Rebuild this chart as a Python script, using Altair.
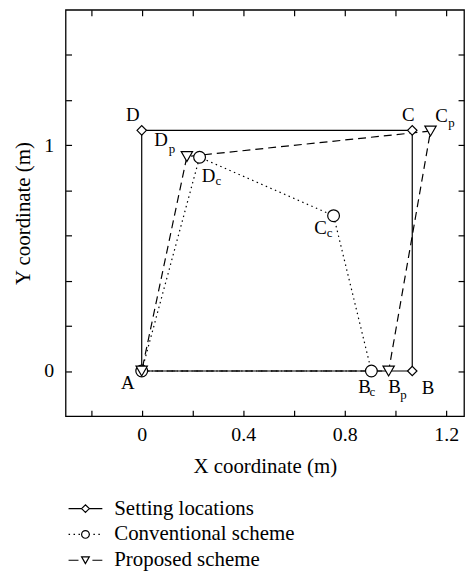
import altair as alt
import pandas as pd

# ---------------- data ----------------
corner_names = ["A", "B", "C", "D"]
set_x = [0.0, 1.066, 1.066, 0.0]
set_y = [0.0, 0.0, 1.066, 1.066]
conv_x = [0.0, 0.905, 0.756, 0.228]
conv_y = [0.0, 0.0, 0.688, 0.947]
prop_x = [0.0, 0.973, 1.138, 0.178]
prop_y = [0.0, 0.0, 1.063, 0.950]
series_names = ["Setting locations", "Conventional scheme", "Proposed scheme"]
series_subs = ["", "c", "p"]
x_tick_values = [-0.2, 0.0, 0.2, 0.4, 0.6, 0.8, 1.0, 1.2]
x_tick_labels = ["0", "0.4", "0.8", "1.2"]
y_tick_values = [0.0, 0.2, 0.4, 0.6, 0.8, 1.0, 1.2, 1.4]
y_tick_labels = ["0", "1"]
x_title = "X coordinate (m)"
y_title = "Y coordinate (m)"

# ---------------- styles ----------------
FONT = "Liberation Serif"
x_domain = [-0.3, 1.27]
y_domain = [-0.2, 1.6]
dashes = [[1, 0], [1.5, 3.5], [8, 5]]
legend_dashes = [[1, 0], [1.5, 3.5], [10, 14]]
shapes = ["diamond", "circle", "triangle-down"]
sizes = [90, 140, 130]
# label offsets in pixels: (dx, dy) for main letter, (sdx, sdy) for subscript
main_off = {
    (0, 0): (-14, 12), (0, 1): (16, 17), (0, 2): (-4, -15), (0, 3): (-9, -15),
    (1, 1): (-7, 16), (1, 2): (-13, 12), (1, 3): (9, 19),
    (2, 1): (6, 16), (2, 2): (11, -15), (2, 3): (-26, -17),
}
sub_off = {
    (1, 1): (1, 21), (1, 2): (-4, 17), (1, 3): (19, 24),
    (2, 1): (15, 24), (2, 2): (21, -8), (2, 3): (-15, -8),
}

xs_all = [set_x, conv_x, prop_x]
ys_all = [set_y, conv_y, prop_y]

xscale = alt.Scale(domain=x_domain, nice=False, zero=False)
yscale = alt.Scale(domain=y_domain, nice=False, zero=False)


def lab_expr(labels):
    arr = "[" + ",".join("'" + l + "'" for l in labels) + "]"
    return "indexof(" + arr + ", datum.label) >= 0 ? datum.label : ''"


ax_bottom = alt.Axis(orient="bottom", values=x_tick_values, format="~g",
                     labelExpr=lab_expr(x_tick_labels),
                     title=x_title, offset=-6, domain=False, tickSize=6, labelPadding=8,
                     titlePadding=12, labelFlush=False)
ax_left = alt.Axis(orient="left", values=y_tick_values, format="~g",
                   labelExpr=lab_expr(y_tick_labels),
                   title=y_title, offset=-6, domain=False, tickSize=6, labelPadding=12,
                   titlePadding=10, labelFlush=False)
ax_top = alt.Axis(orient="top", values=x_tick_values, labels=False, title=None,
                  offset=-6, domain=False, tickSize=6)
ax_right = alt.Axis(orient="right", values=y_tick_values, labels=False, title=None,
                    offset=-6, domain=False, tickSize=6)

layers = []
for i in range(3):
    xs, ys = xs_all[i], ys_all[i]
    df = pd.DataFrame({"x": xs + xs[:1], "y": ys + ys[:1], "order": list(range(len(xs) + 1))})
    if i == 0:
        xa, ya = ax_bottom, ax_left
    else:
        xa, ya = None, None
    line = alt.Chart(df).mark_line(color="black", strokeWidth=1.2, strokeDash=dashes[i]).encode(
        x=alt.X("x:Q", scale=xscale, axis=xa),
        y=alt.Y("y:Q", scale=yscale, axis=ya),
        order="order:Q",
    )
    layers.append(line)

for i in range(3):
    df = pd.DataFrame({"x": xs_all[i], "y": ys_all[i]})
    if i == 0:
        xa, ya = ax_top, ax_right
    else:
        xa, ya = None, None
    pts = alt.Chart(df).mark_point(shape=shapes[i], size=sizes[i], filled=True, fill="white",
                                   stroke="black", strokeWidth=1.2, opacity=1).encode(
        x=alt.X("x:Q", scale=xscale, axis=xa),
        y=alt.Y("y:Q", scale=yscale, axis=ya),
    )
    layers.append(pts)

for (i, k), (dx, dy) in main_off.items():
    df = pd.DataFrame({"x": [xs_all[i][k]], "y": [ys_all[i][k]], "t": [corner_names[k]]})
    layers.append(alt.Chart(df).mark_text(font=FONT, fontSize=19, dx=dx, dy=dy, color="black",
                                          align="center", baseline="middle").encode(
        x=alt.X("x:Q", scale=xscale, axis=None),
        y=alt.Y("y:Q", scale=yscale, axis=None),
        text="t:N"))

for (i, k), (dx, dy) in sub_off.items():
    df = pd.DataFrame({"x": [xs_all[i][k]], "y": [ys_all[i][k]], "t": [series_subs[i]]})
    layers.append(alt.Chart(df).mark_text(font=FONT, fontSize=13, dx=dx, dy=dy, color="black",
                                          align="center", baseline="middle").encode(
        x=alt.X("x:Q", scale=xscale, axis=None),
        y=alt.Y("y:Q", scale=yscale, axis=None),
        text="t:N"))

main = alt.layer(*layers).resolve_axis(x="independent", y="independent").properties(
    width=401, height=409)

# ---------------- legend panel ----------------
leg_df = pd.DataFrame({"series": series_names})
ly = alt.Y("series:N", sort=series_names, axis=None)
leg_rule = alt.Chart(leg_df).mark_rule(color="black", strokeWidth=1.2).encode(
    x=alt.value(3), x2=alt.value(37), y=ly,
    strokeDash=alt.StrokeDash("series:N", scale=alt.Scale(domain=series_names, range=legend_dashes),
                              legend=None))
leg_pts = alt.Chart(leg_df).mark_point(size=60, filled=True, fill="white", stroke="black",
                                       strokeWidth=1.2, opacity=1).encode(
    x=alt.value(20), y=ly,
    shape=alt.Shape("series:N", scale=alt.Scale(domain=series_names, range=shapes), legend=None))
leg_txt = alt.Chart(leg_df).mark_text(font=FONT, fontSize=21, align="left", baseline="middle",
                                      color="black").encode(
    x=alt.value(49), y=ly, text="series:N")
legend = alt.layer(leg_rule, leg_pts, leg_txt).properties(
    width=401, height=78, view=alt.ViewBackground(stroke="transparent"))

chart = alt.vconcat(main, legend, spacing=17).resolve_scale(
    x="independent", y="independent", shape="independent", strokeDash="independent"
).properties(
    padding={"left": 12, "top": 6, "right": 1, "bottom": 0}
).configure_view(stroke="black", strokeWidth=1.3).configure_axis(
    labelFont=FONT, titleFont=FONT, labelFontSize=20, titleFontSize=21,
    labelColor="black", titleColor="black", tickColor="black", tickWidth=1.2,
    grid=False, titleFontWeight="normal")

chart.save("out.html", embed_options={"renderer": "svg", "actions": False})
